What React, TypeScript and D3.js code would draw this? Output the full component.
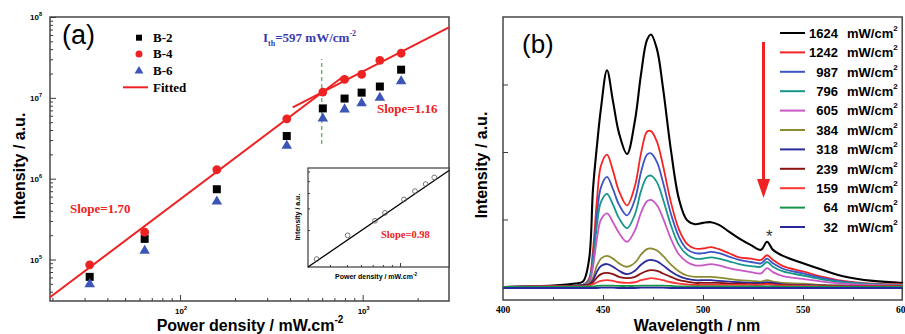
import React, { useEffect, useRef } from "react";
import * as d3 from "d3";

// ---- panel (a): integrated intensity vs pump power density (log-log)
const powers = [32, 64, 159, 384, 605, 796, 987, 1242, 1624];
const b2 = [6.1e4, 1.8e5, 7.4e5, 3.37e6, 7.4e6, 9.8e6, 1.16e7, 1.38e7, 2.23e7];
const b4 = [8.6e4, 2.18e5, 1.29e6, 5.5e6, 1.18e7, 1.69e7, 1.95e7, 2.91e7, 3.56e7];
const b6 = [5.1e4, 1.32e5, 5.37e5, 2.63e6, 5.7e6, 7.4e6, 8.8e6, 1.03e7, 1.65e7];

// fitted lines (end points, data units)
const fitLowP = [19.4, 780];
const fitLowI = [3.41e4, 1.82e7];
const fitHighP = [414, 2970];
const fitHighI = [7.6e6, 7.46e7];

// threshold marker
const thresholdP = 597;
const thresholdI = [2.69e6, 3.02e7];

const yMajor = [1e5, 1e6, 1e7, 1e8];
const yMajorExp = ["5", "6", "7", "8"];
const xMajor = [100, 1000];
const xMajorExp = ["2", "3"];

// inset: above-threshold region
const insetP = [336, 504, 721, 822, 1054, 1217, 1400, 1567];
const insetI = [1.16, 1.81, 2.38, 2.76, 3.55, 4.15, 4.73, 5.36];
const insetFitP = [300, 1900];
const insetFitI = [1.0, 6.1];

// ---- panel (b): emission spectra
const wavelengths = [400, 425, 436, 440, 443, 445, 447, 449, 452, 455, 458, 462, 466, 469, 472, 474, 477, 480, 484, 488, 492, 496, 500, 504, 508, 513, 518, 524, 529, 532, 535, 540, 550, 560, 570, 585, 600];
const s1624 = [0, 0.02, 0.05, 0.08, 0.4, 1.45, 2.1, 2.65, 3.21, 2.75, 2.28, 1.97, 2.47, 3.15, 3.66, 3.74, 3.52, 2.95, 2.02, 1.3, 0.99, 0.93, 0.95, 0.96, 0.92, 0.82, 0.72, 0.62, 0.55, 0.67, 0.55, 0.46, 0.35, 0.25, 0.16, 0.09, 0.06];
const s1242 = [0, 0.01, 0.02, 0.03, 0.12, 0.55, 1.3, 1.8, 1.96, 1.72, 1.42, 1.21, 1.5, 1.98, 2.3, 2.31, 2.15, 1.8, 1.25, 0.85, 0.64, 0.57, 0.57, 0.59, 0.56, 0.5, 0.44, 0.42, 0.4, 0.47, 0.4, 0.31, 0.23, 0.15, 0.09, 0.05, 0.04];
const s987 = [0, 0.01, 0.02, 0.03, 0.1, 0.45, 1.08, 1.48, 1.63, 1.45, 1.22, 1.06, 1.3, 1.7, 1.96, 1.98, 1.85, 1.55, 1.08, 0.74, 0.56, 0.5, 0.5, 0.52, 0.5, 0.45, 0.4, 0.37, 0.35, 0.42, 0.35, 0.27, 0.2, 0.13, 0.08, 0.04, 0.03];
const s796 = [0, 0.01, 0.02, 0.03, 0.09, 0.38, 0.92, 1.26, 1.38, 1.22, 1.02, 0.87, 1.08, 1.42, 1.63, 1.65, 1.55, 1.3, 0.91, 0.62, 0.48, 0.42, 0.42, 0.44, 0.42, 0.38, 0.34, 0.31, 0.3, 0.37, 0.3, 0.23, 0.17, 0.11, 0.07, 0.04, 0.03];
const s605 = [0, 0.01, 0.02, 0.03, 0.07, 0.3, 0.72, 1.0, 1.09, 0.96, 0.8, 0.67, 0.84, 1.1, 1.27, 1.29, 1.21, 1.02, 0.71, 0.48, 0.37, 0.32, 0.32, 0.34, 0.32, 0.28, 0.25, 0.22, 0.2, 0.28, 0.22, 0.16, 0.12, 0.08, 0.05, 0.03, 0.02];
const s384 = [0, 0.01, 0.02, 0.03, 0.05, 0.14, 0.32, 0.42, 0.46, 0.42, 0.35, 0.3, 0.36, 0.48, 0.56, 0.57, 0.54, 0.46, 0.33, 0.23, 0.17, 0.15, 0.15, 0.15, 0.14, 0.12, 0.1, 0.09, 0.08, 0.1, 0.08, 0.06, 0.05, 0.03, 0.02, 0.01, 0.01];
const s318 = [0, 0.01, 0.02, 0.03, 0.04, 0.1, 0.23, 0.31, 0.34, 0.3, 0.24, 0.19, 0.24, 0.33, 0.39, 0.4, 0.38, 0.32, 0.23, 0.16, 0.12, 0.1, 0.1, 0.1, 0.09, 0.08, 0.07, 0.06, 0.06, 0.07, 0.06, 0.04, 0.03, 0.02, 0.02, 0.01, 0.01];
const s239 = [0, 0.01, 0.01, 0.02, 0.03, 0.07, 0.14, 0.19, 0.21, 0.19, 0.15, 0.13, 0.15, 0.2, 0.24, 0.25, 0.24, 0.2, 0.15, 0.1, 0.08, 0.06, 0.06, 0.06, 0.06, 0.05, 0.05, 0.04, 0.04, 0.05, 0.04, 0.03, 0.02, 0.02, 0.01, 0.01, 0.01];
const s159 = [0, 0.01, 0.01, 0.01, 0.02, 0.04, 0.07, 0.09, 0.1, 0.09, 0.07, 0.06, 0.07, 0.1, 0.12, 0.13, 0.12, 0.1, 0.07, 0.05, 0.04, 0.03, 0.03, 0.03, 0.03, 0.03, 0.03, 0.03, 0.03, 0.04, 0.03, 0.02, 0.02, 0.01, 0.01, 0.01, 0.01];
const s64 = [0, 0, 0.005, 0.005, 0.01, 0.01, 0.015, 0.02, 0.02, 0.02, 0.015, 0.015, 0.015, 0.02, 0.02, 0.02, 0.02, 0.02, 0.015, 0.01, 0.01, 0.01, 0.01, 0.01, 0.01, 0.01, 0.01, 0.01, 0.01, 0.01, 0.01, 0.005, 0.005, 0.005, 0, 0, 0];
const s32 = [-0.015, -0.015, -0.015, -0.015, -0.015, -0.015, -0.015, -0.01, -0.01, -0.01, -0.015, -0.015, -0.015, -0.01, -0.01, -0.01, -0.01, -0.01, -0.015, -0.015, -0.015, -0.015, -0.015, -0.015, -0.015, -0.015, -0.015, -0.015, -0.015, -0.015, -0.015, -0.015, -0.015, -0.015, -0.015, -0.015, -0.015];

const spectraLabels = ["1624", "1242", "987", "796", "605", "384", "318", "239", "159", "64", "32"];
const spectra = [s1624, s1242, s987, s796, s605, s384, s318, s239, s159, s64, s32];
const spectraColors = ["#000000", "#f52424", "#3b55c4", "#17978b", "#c957c4", "#8b8b32", "#2c2c9c", "#8a1414", "#ff3434", "#179447", "#28289e"];
const wlTicks = [400, 450, 500, 550, 600];

const W = 905;
const H = 334;

const App = () => {
  const svgRef = useRef(null);

  useEffect(() => {
    const svg = d3.select(svgRef.current);
    svg.selectAll("*").remove();

    const sans = "'Liberation Sans', Arial, sans-serif";
    const serif = "'Liberation Serif', 'Times New Roman', serif";
    const red = "#ee2222";
    const frame = "#3a3a3a";

    // ================= panel (a)
    const A = { left: 50, right: 449, top: 17, bottom: 301 };
    const xA = d3.scaleLog().domain([19.4, 2970]).range([A.left, A.right]);
    const yA = d3.scaleLog().domain([30670, 1e8]).range([A.bottom, A.top]);

    const gA = svg.append("g");

    const logMinors = (scale, decades) => {
      const [lo, hi] = scale.domain();
      const out = [];
      decades.forEach(d => {
        for (let k = 2; k <= 9; k++) {
          const v = k * d;
          if (v > lo && v < hi) out.push(v);
        }
      });
      return out;
    };

    const tickAxis = (g, axis, len) => {
      g.call(axis.tickSize(-len).tickFormat(() => ""));
      g.select(".domain").remove();
      g.selectAll(".tick line").attr("stroke", frame).attr("stroke-width", 1);
    };

    tickAxis(gA.append("g").attr("transform", `translate(0,${A.bottom})`),
      d3.axisBottom(xA).tickValues(logMinors(xA, [10, 100, 1000])), 3);
    tickAxis(gA.append("g").attr("transform", `translate(0,${A.bottom})`),
      d3.axisBottom(xA).tickValues(xMajor), 6);
    tickAxis(gA.append("g").attr("transform", `translate(${A.left},0)`),
      d3.axisLeft(yA).tickValues(logMinors(yA, [1e4, 1e5, 1e6, 1e7])), 3);
    tickAxis(gA.append("g").attr("transform", `translate(${A.left},0)`),
      d3.axisLeft(yA).tickValues(yMajor), 6);

    gA.append("rect")
      .attr("x", A.left).attr("y", A.top)
      .attr("width", A.right - A.left).attr("height", A.bottom - A.top)
      .attr("fill", "none").attr("stroke", frame).attr("stroke-width", 1.4);

    // tick labels
    yMajor.forEach((v, i) => {
      const t = gA.append("text")
        .attr("x", 42).attr("y", yA(v) + 3)
        .attr("text-anchor", "end")
        .style("font-family", sans).style("font-weight", "bold").style("font-size", "8px");
      t.append("tspan").text("10");
      t.append("tspan").attr("dy", -4).style("font-size", "5.5px").text(yMajorExp[i]);
    });
    xMajor.forEach((v, i) => {
      const t = gA.append("text")
        .attr("x", xA(v) + 1).attr("y", 314)
        .attr("text-anchor", "middle")
        .style("font-family", sans).style("font-weight", "bold").style("font-size", "8px");
      t.append("tspan").text("10");
      t.append("tspan").attr("dy", -4).style("font-size", "5.5px").text(xMajorExp[i]);
    });

    // axis titles
    const xt = gA.append("text")
      .attr("x", 250).attr("y", 331)
      .attr("text-anchor", "middle")
      .style("font-family", sans).style("font-weight", "bold").style("font-size", "16px");
    xt.append("tspan").text("Power density / mW.cm");
    xt.append("tspan").attr("dy", -8).style("font-size", "10px").text("-2");

    gA.append("text")
      .attr("transform", "rotate(-90)")
      .attr("x", -166).attr("y", 25)
      .attr("text-anchor", "middle")
      .style("font-family", sans).style("font-weight", "bold").style("font-size", "16px")
      .text("Intensity / a.u.");

    gA.append("text")
      .attr("x", 62).attr("y", 44)
      .style("font-family", sans).style("font-size", "27px")
      .text("(a)");

    // threshold dashed line
    gA.append("line")
      .attr("x1", xA(thresholdP)).attr("x2", xA(thresholdP))
      .attr("y1", yA(thresholdI[0])).attr("y2", yA(thresholdI[1]))
      .attr("stroke", "#4caf50").attr("stroke-width", 1.2)
      .attr("stroke-dasharray", "4,3");

    // fitted lines
    const fitLine = d3.line().x(d => xA(d[0])).y(d => yA(d[1]));
    [[fitLowP, fitLowI], [fitHighP, fitHighI]].forEach(([p, v]) => {
      gA.append("path")
        .attr("d", fitLine(p.map((x, i) => [x, v[i]])))
        .attr("fill", "none").attr("stroke", red).attr("stroke-width", 2);
    });

    // markers
    const tri = d3.symbol().type(d3.symbolTriangle).size(48);
    gA.selectAll(".b2").data(powers).join("rect")
      .attr("x", (d) => xA(d) - 4)
      .attr("y", (d, i) => yA(b2[i]) - 4)
      .attr("width", 8).attr("height", 8).attr("fill", "#000");
    gA.selectAll(".b4").data(powers).join("circle")
      .attr("cx", d => xA(d)).attr("cy", (d, i) => yA(b4[i]))
      .attr("r", 4.4).attr("fill", red);
    gA.selectAll(".b6").data(powers).join("path")
      .attr("d", tri)
      .attr("transform", (d, i) => `translate(${xA(d)},${yA(b6[i]) + 1})`)
      .attr("fill", "#3b55b8");

    // legend
    const lg = gA.append("g").style("font-family", serif).style("font-weight", "bold").style("font-size", "13px");
    lg.append("rect").attr("x", 136).attr("y", 34.7).attr("width", 6).attr("height", 6).attr("fill", "#000");
    lg.append("text").attr("x", 153).attr("y", 41.5).text("B-2");
    lg.append("circle").attr("cx", 139).attr("cy", 54).attr("r", 3.5).attr("fill", red);
    lg.append("text").attr("x", 153).attr("y", 58.3).text("B-4");
    lg.append("path").attr("d", d3.symbol().type(d3.symbolTriangle).size(34)).attr("transform", "translate(139,71)").attr("fill", "#3b55b8");
    lg.append("text").attr("x", 153).attr("y", 75).text("B-6");
    lg.append("line").attr("x1", 123).attr("x2", 148).attr("y1", 87.3).attr("y2", 87.3).attr("stroke", red).attr("stroke-width", 2);
    lg.append("text").attr("x", 153).attr("y", 91.7).text("Fitted");

    // annotations
    const ith = gA.append("text")
      .attr("x", 263).attr("y", 41.7)
      .attr("fill", "#3a3ab0")
      .style("font-family", serif).style("font-weight", "bold").style("font-size", "13px");
    ith.append("tspan").text("I");
    ith.append("tspan").attr("dy", 4).style("font-size", "8px").text("th");
    ith.append("tspan").attr("dy", -4).text("=597 mW/cm");
    ith.append("tspan").attr("dy", -6).style("font-size", "8px").text("-2");

    gA.append("text").attr("x", 377).attr("y", 113.3)
      .attr("fill", red)
      .style("font-family", serif).style("font-weight", "bold").style("font-size", "13px")
      .text("Slope=1.16");
    gA.append("text").attr("x", 70).attr("y", 213.3)
      .attr("fill", red)
      .style("font-family", serif).style("font-weight", "bold").style("font-size", "13px")
      .text("Slope=1.70");

    // ================= inset
    const I = { left: 308, right: 449, top: 168, bottom: 267 };
    const xI = d3.scaleLog().domain([300, 1900]).range([I.left, I.right]);
    const yI = d3.scaleLog().domain([1, 6.4]).range([I.bottom, I.top]);
    const gI = svg.append("g");
    gI.append("rect")
      .attr("x", I.left).attr("y", I.top)
      .attr("width", I.right - I.left).attr("height", I.bottom - I.top)
      .attr("fill", "#fff").attr("stroke", frame).attr("stroke-width", 1.2);
    tickAxis(gI.append("g").attr("transform", `translate(0,${I.bottom})`),
      d3.axisBottom(xI).tickValues(logMinors(xI, [100, 1000])), 2);
    tickAxis(gI.append("g").attr("transform", `translate(0,${I.bottom})`),
      d3.axisBottom(xI).tickValues([1000]), 4);
    tickAxis(gI.append("g").attr("transform", `translate(${I.left},0)`),
      d3.axisLeft(yI).tickValues([2, 3, 4, 5, 6]), 2);

    gI.append("path")
      .attr("d", d3.line().x(d => xI(d[0])).y(d => yI(d[1]))(insetFitP.map((p, i) => [p, insetFitI[i]])))
      .attr("fill", "none").attr("stroke", "#000").attr("stroke-width", 1.3);
    gI.selectAll(".ic").data(insetP).join("circle")
      .attr("cx", d => xI(d)).attr("cy", (d, i) => yI(insetI[i]))
      .attr("r", 2.4).attr("fill", "none").attr("stroke", "#555").attr("stroke-width", 0.8);

    const ixt = gI.append("text")
      .attr("x", 376).attr("y", 279)
      .attr("text-anchor", "middle")
      .style("font-family", sans).style("font-weight", "bold").style("font-size", "7px");
    ixt.append("tspan").text("Power density / mW.cm");
    ixt.append("tspan").attr("dy", -3).style("font-size", "4.5px").text("-2");
    gI.append("text")
      .attr("transform", "rotate(-90)")
      .attr("x", -217).attr("y", 300)
      .attr("text-anchor", "middle")
      .style("font-family", sans).style("font-weight", "bold").style("font-size", "7px")
      .text("Intensity / a.u.");
    gI.append("text").attr("x", 381).attr("y", 238)
      .attr("fill", red)
      .style("font-family", serif).style("font-weight", "bold").style("font-size", "10.5px")
      .text("Slope=0.98");

    // ================= panel (b)
    const B = { left: 503, right: 903, top: 17, bottom: 300 };
    const xB = d3.scaleLinear().domain([400, 600]).range([B.left, B.right]);
    const yB = d3.scaleLinear().domain([-0.193, 4]).range([B.bottom, B.top]);
    const gB = svg.append("g");

    tickAxis(gB.append("g").attr("transform", `translate(0,${B.bottom})`),
      d3.axisBottom(xB).tickValues([425, 475, 525, 575]), 3);
    tickAxis(gB.append("g").attr("transform", `translate(0,${B.bottom})`),
      d3.axisBottom(xB).tickValues([450, 500, 550]), 5);
    tickAxis(gB.append("g").attr("transform", `translate(${B.left},0)`),
      d3.axisLeft(yB).tickValues([0, 1, 2, 3]), 5);

    gB.append("rect")
      .attr("x", B.left).attr("y", B.top)
      .attr("width", B.right - B.left - 0.8).attr("height", B.bottom - B.top)
      .attr("fill", "none").attr("stroke", frame).attr("stroke-width", 1.4);

    gB.selectAll(".xl").data(wlTicks).join("text")
      .attr("x", d => xB(d)).attr("y", 313)
      .attr("text-anchor", "middle")
      .style("font-family", serif).style("font-weight", "bold").style("font-size", "9.5px")
      .text(d => d);

    const spec = d3.line()
      .x((d, i) => xB(wavelengths[i]))
      .y(d => yB(d))
      .curve(d3.curveCatmullRom.alpha(0.5));
    spectra.forEach((s, k) => {
      gB.append("path")
        .attr("d", spec(s))
        .attr("fill", "none")
        .attr("stroke", spectraColors[k])
        .attr("stroke-width", k === 0 ? 2.1 : 1.8)
        .attr("stroke-linejoin", "round");
    });

    // legend
    const lb = gB.append("g").style("font-family", sans).style("font-weight", "bold").style("font-size", "13px");
    spectraLabels.forEach((lab, k) => {
      const y = 33 + k * 19.4;
      lb.append("line").attr("x1", 780).attr("x2", 805).attr("y1", y).attr("y2", y)
        .attr("stroke", spectraColors[k]).attr("stroke-width", 2);
      lb.append("text").attr("x", 838).attr("y", y + 4.7).attr("text-anchor", "end").text(lab);
      const t = lb.append("text").attr("x", 847).attr("y", y + 4.7);
      t.append("tspan").text("mW/cm");
      t.append("tspan").attr("dy", -7).style("font-size", "8px").text("2");
    });

    // arrow (decreasing pump)
    const ax = xB(530.25);
    gB.append("line")
      .attr("x1", ax).attr("x2", ax)
      .attr("y1", yB(3.63)).attr("y2", yB(1.5))
      .attr("stroke", red).attr("stroke-width", 3);
    gB.append("path")
      .attr("d", `M${ax - 6.5},${yB(1.6)} L${ax + 6.5},${yB(1.6)} L${ax},${yB(1.32)} Z`)
      .attr("fill", red);

    gB.append("text")
      .attr("x", xB(533.2)).attr("y", yB(0.81) + 10)
      .attr("text-anchor", "middle")
      .attr("fill", "#333")
      .style("font-family", sans).style("font-size", "17px")
      .text("*");

    gB.append("text")
      .attr("x", 522).attr("y", 53)
      .style("font-family", sans).style("font-size", "26px")
      .text("(b)");

    gB.append("text")
      .attr("x", 697).attr("y", 331)
      .attr("text-anchor", "middle")
      .style("font-family", sans).style("font-weight", "bold").style("font-size", "16px")
      .text("Wavelength / nm");

    gB.append("text")
      .attr("transform", "rotate(-90)")
      .attr("x", -165).attr("y", 487)
      .attr("text-anchor", "middle")
      .style("font-family", sans).style("font-weight", "bold").style("font-size", "16px")
      .text("Intensity / a.u.");
  }, []);

  return (
    <svg
      ref={svgRef}
      width={W}
      height={H}
      style={{ position: "absolute", left: 0, top: 0, background: "#fff" }}
    />
  );
};

export default App;
